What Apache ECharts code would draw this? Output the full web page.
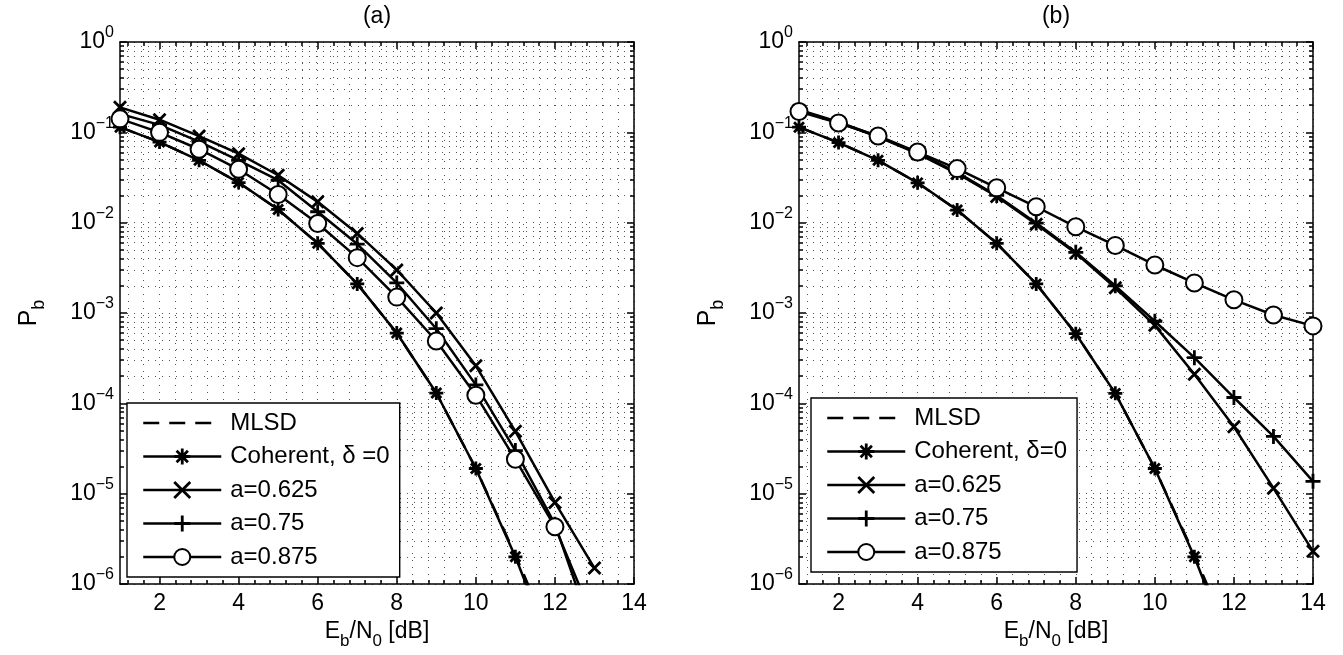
<!DOCTYPE html>
<html><head><meta charset="utf-8">
<script src="https://cdn.jsdelivr.net/npm/echarts@6/dist/echarts.min.js"></script>
<style>html,body{margin:0;padding:0;background:#fff}#c{width:1343px;height:655px}</style>
</head><body><div id="c"></div>
<script>
// ---------------- data ----------------
const ebn0 = [1,2,3,4,5,6,7,8,9,10,11,12,13,14];
const panelTitles = ['(a)', '(b)'];
const namesA = ['MLSD', 'Coherent, \u03b4 =0', 'a=0.625', 'a=0.75', 'a=0.875'];
const namesB = ['MLSD', 'Coherent, \u03b4=0', 'a=0.625', 'a=0.75', 'a=0.875'];

// panel (a)
const mlsdA    = [0.114, 0.078, 0.049, 0.0278, 0.014, 0.0059, 0.0021, 6.0e-4, 1.3e-4, 1.9e-5, 2.1e-6, 2.0e-7];
const cohA     = [0.114, 0.078, 0.049, 0.0278, 0.014, 0.0059, 0.0021, 6.0e-4, 1.3e-4, 1.9e-5, 2.0e-6, 1.5e-7];
const a625A    = [0.189, 0.138, 0.091, 0.058, 0.0335, 0.017, 0.0076, 0.0030, 0.0010, 2.6e-4, 4.9e-5, 8.0e-6, 1.5e-6];
const a75A     = [0.160, 0.121, 0.079, 0.049, 0.0295, 0.0132, 0.0058, 0.00215, 6.7e-4, 1.6e-4, 3.0e-5, 4.6e-6, 2.5e-7];
const a875A    = [0.141, 0.100, 0.065, 0.039, 0.0205, 0.0098, 0.0041, 0.0015, 4.9e-4, 1.23e-4, 2.4e-5, 4.3e-6, 3.8e-7];

// panel (b)
const mlsdB    = [0.114, 0.077, 0.049, 0.0276, 0.0138, 0.0059, 0.0021, 5.9e-4, 1.29e-4, 1.9e-5, 2.1e-6, 2.0e-7];
const cohB     = [0.114, 0.077, 0.049, 0.0276, 0.0138, 0.0059, 0.0021, 5.9e-4, 1.29e-4, 1.9e-5, 2.0e-6, 1.5e-7];
const a625B    = [0.175, 0.128, 0.089, 0.058, 0.035, 0.0195, 0.0096, 0.0046, 0.0019, 7.3e-4, 2.1e-4, 5.5e-5, 1.15e-5, 2.3e-6];
const a75B     = [0.178, 0.130, 0.090, 0.059, 0.036, 0.020, 0.0099, 0.0047, 0.0020, 8.1e-4, 3.2e-4, 1.16e-4, 4.3e-5, 1.37e-5];
const a875B    = [0.170, 0.127, 0.091, 0.0605, 0.0397, 0.0243, 0.015, 0.009, 0.0056, 0.0034, 0.00215, 0.0014, 0.00095, 0.00072];

// ticks
const xMajorTicks = [2, 4, 6, 8, 10, 12, 14];
const xMinorTicks = [1.2,1.6,2.4,2.8,3.2,3.6,4.4,4.8,5.2,5.6,6.4,6.8,7.2,7.6,8.4,8.8,9.2,9.6,10.4,10.8,11.2,11.6,12.4,12.8,13.2,13.6];
const yMajorTicks = [1e-6, 1e-5, 1e-4, 1e-3, 1e-2, 1e-1, 1];
const yMinorMantissa = [2,3,4,5,6,7,8,9];

// ---------------- build ----------------
const FONT = '"Liberation Sans", Arial, Helvetica, sans-serif';
const FS = 23;
const yMinorTicks = [];
yMajorTicks.slice(0, -1).forEach(d => yMinorMantissa.forEach(m => yMinorTicks.push(+(m * d).toPrecision(3))));

const SYM_STAR  = 'path://M5,0L5,10M0,5L10,5M1.46,1.46L8.54,8.54M8.54,1.46L1.46,8.54';
const SYM_CROSS = 'path://M0,0L10,10M10,0L0,10';
const SYM_PLUS  = 'path://M5,0L5,10M0,5L10,5';

const gridLine = {show: true, lineStyle: {color: '#555', width: 1, type: [1, 6]}};
const blk = {color: '#000', width: 1.5};

function xAxes(gi) {
  const base = {type: 'value', gridIndex: gi, min: 1, max: 14};
  return [
    Object.assign({}, base, {
      position: 'bottom',
      axisLine: {show: true, onZero: false, lineStyle: blk},
      axisTick: {show: true, inside: true, length: 7, customValues: xMajorTicks, lineStyle: blk},
      axisLabel: {show: true, customValues: xMajorTicks, fontSize: FS, fontFamily: FONT, color: '#000', margin: 8},
      splitLine: gridLine,
      name: '{b|E}{s|b}{b|/N}{s|0}{b| [dB]}',
      nameLocation: 'middle', nameGap: 29,
      nameTextStyle: {color: '#000', rich: {
        b: {fontSize: FS, fontFamily: FONT, color: '#000', lineHeight: 37},
        s: {fontSize: 17, fontFamily: FONT, color: '#000', lineHeight: 17, verticalAlign: 'bottom'}
      }}
    }),
    Object.assign({}, base, {
      position: 'bottom',
      axisLine: {show: false},
      axisTick: {show: true, inside: true, length: 4, customValues: xMinorTicks, lineStyle: blk},
      axisLabel: {show: false},
      splitLine: gridLine
    }),
    Object.assign({}, base, {
      position: 'top',
      axisLine: {show: true, onZero: false, lineStyle: blk},
      axisTick: {show: true, inside: true, length: 7, customValues: xMajorTicks, lineStyle: blk},
      axisLabel: {show: false},
      splitLine: {show: false}
    }),
    Object.assign({}, base, {
      position: 'top',
      axisLine: {show: false},
      axisTick: {show: true, inside: true, length: 4, customValues: xMinorTicks, lineStyle: blk},
      axisLabel: {show: false},
      splitLine: {show: false}
    })
  ];
}

function yLabel(v) {
  const e = Math.round(Math.log10(v));
  return '{b|10}{s|' + (e === 0 ? '0' : '\u2212' + (-e)) + '}';
}

function yAxes(gi) {
  const base = {type: 'log', logBase: 10, gridIndex: gi, min: 1e-6, max: 1};
  return [
    Object.assign({}, base, {
      position: 'left',
      axisLine: {show: true, onZero: false, lineStyle: blk},
      axisTick: {show: true, inside: true, length: 7, customValues: yMajorTicks, lineStyle: blk},
      axisLabel: {show: true, customValues: yMajorTicks, formatter: yLabel, margin: 6,
        rich: {
          b: {fontSize: FS, fontFamily: FONT, color: '#000', lineHeight: 34},
          s: {fontSize: 16, fontFamily: FONT, color: '#000', lineHeight: 16, verticalAlign: 'top'}
        }},
      splitLine: gridLine,
      name: '{b|P}{s|b}',
      nameLocation: 'middle', nameRotate: 90, nameGap: 72,
      nameTextStyle: {color: '#000', rich: {
        b: {fontSize: 25, fontFamily: FONT, color: '#000', lineHeight: 38},
        s: {fontSize: 18, fontFamily: FONT, color: '#000', lineHeight: 18, verticalAlign: 'bottom'}
      }}
    }),
    Object.assign({}, base, {
      position: 'left',
      axisLine: {show: false},
      axisTick: {show: true, inside: true, length: 4, customValues: yMinorTicks, lineStyle: blk},
      axisLabel: {show: false},
      splitLine: gridLine
    }),
    Object.assign({}, base, {
      position: 'right',
      axisLine: {show: true, onZero: false, lineStyle: blk},
      axisTick: {show: true, inside: true, length: 7, customValues: yMajorTicks, lineStyle: blk},
      axisLabel: {show: false},
      splitLine: {show: false}
    }),
    Object.assign({}, base, {
      position: 'right',
      axisLine: {show: false},
      axisTick: {show: true, inside: true, length: 4, customValues: yMinorTicks, lineStyle: blk},
      axisLabel: {show: false},
      splitLine: {show: false}
    })
  ];
}

function pairs(vals) { return vals.map((v, i) => [ebn0[i], v]); }

function mk(gi, name, vals, symbol, size, dashed) {
  return {
    type: 'line', name: name, xAxisIndex: gi * 4, yAxisIndex: gi * 4,
    data: pairs(vals),
    symbol: symbol, symbolSize: size, showSymbol: !dashed,
    clip: true, animation: false, silent: true,
    lineStyle: {color: '#000', width: 2.5, type: dashed ? [16, 10] : 'solid'},
    itemStyle: {color: '#000', borderColor: '#000', borderWidth: 2.8, opacity: dashed ? 0 : 1},
    emphasis: {disabled: true}
  };
}

const series = [
  mk(0, namesA[0], mlsdA, 'circle', 1, true),
  mk(0, namesA[1], cohA, SYM_STAR, 14, false),
  mk(0, namesA[2], a625A, SYM_CROSS, 12, false),
  mk(0, namesA[3], a75A, SYM_PLUS, 15, false),
  mk(0, namesA[4], a875A, 'emptyCircle', 17, false),
  mk(1, namesB[0], mlsdB, 'circle', 1, true),
  mk(1, namesB[1], cohB, SYM_STAR, 14, false),
  mk(1, namesB[2], a625B, SYM_CROSS, 12, false),
  mk(1, namesB[3], a75B, SYM_PLUS, 15, false),
  mk(1, namesB[4], a875B, 'emptyCircle', 17, false)
];

function legend(names, left, top) {
  return {
    data: names, orient: 'vertical', left: left, top: top,
    backgroundColor: '#fff', borderColor: '#000', borderWidth: 1.4, borderRadius: 0,
    padding: [7, 10, 7, 15], itemGap: 7.5, itemWidth: 78, itemHeight: 20,
    selectedMode: false,
    textStyle: {fontSize: 24, fontFamily: FONT, color: '#000', lineHeight: 26, padding: [0, 0, 0, 4]},
    lineStyle: {width: 2.5}, itemStyle: {borderWidth: 2.8}
  };
}

const grids = [
  {left: 120, top: 42, width: 514, height: 546},
  {left: 799, top: 42, width: 514, height: 546}
];

const option = {
  backgroundColor: '#fff',
  animation: false,
  grid: grids,
  xAxis: xAxes(0).concat(xAxes(1)),
  yAxis: yAxes(0).concat(yAxes(1)),
  legend: [legend(namesA, 127, 403), legend(namesB, 811, 398)],
  graphic: panelTitles.map((t, i) => ({
    type: 'text', x: grids[i].left + grids[i].width / 2, y: 17,
    style: {text: t, font: FS + 'px ' + FONT, fill: '#000', textAlign: 'center', textVerticalAlign: 'middle'}
  })),
  series: series
};

const chart = echarts.init(document.getElementById('c'), null, {renderer: 'canvas'});
chart.setOption(option);
</script>
</body></html>
